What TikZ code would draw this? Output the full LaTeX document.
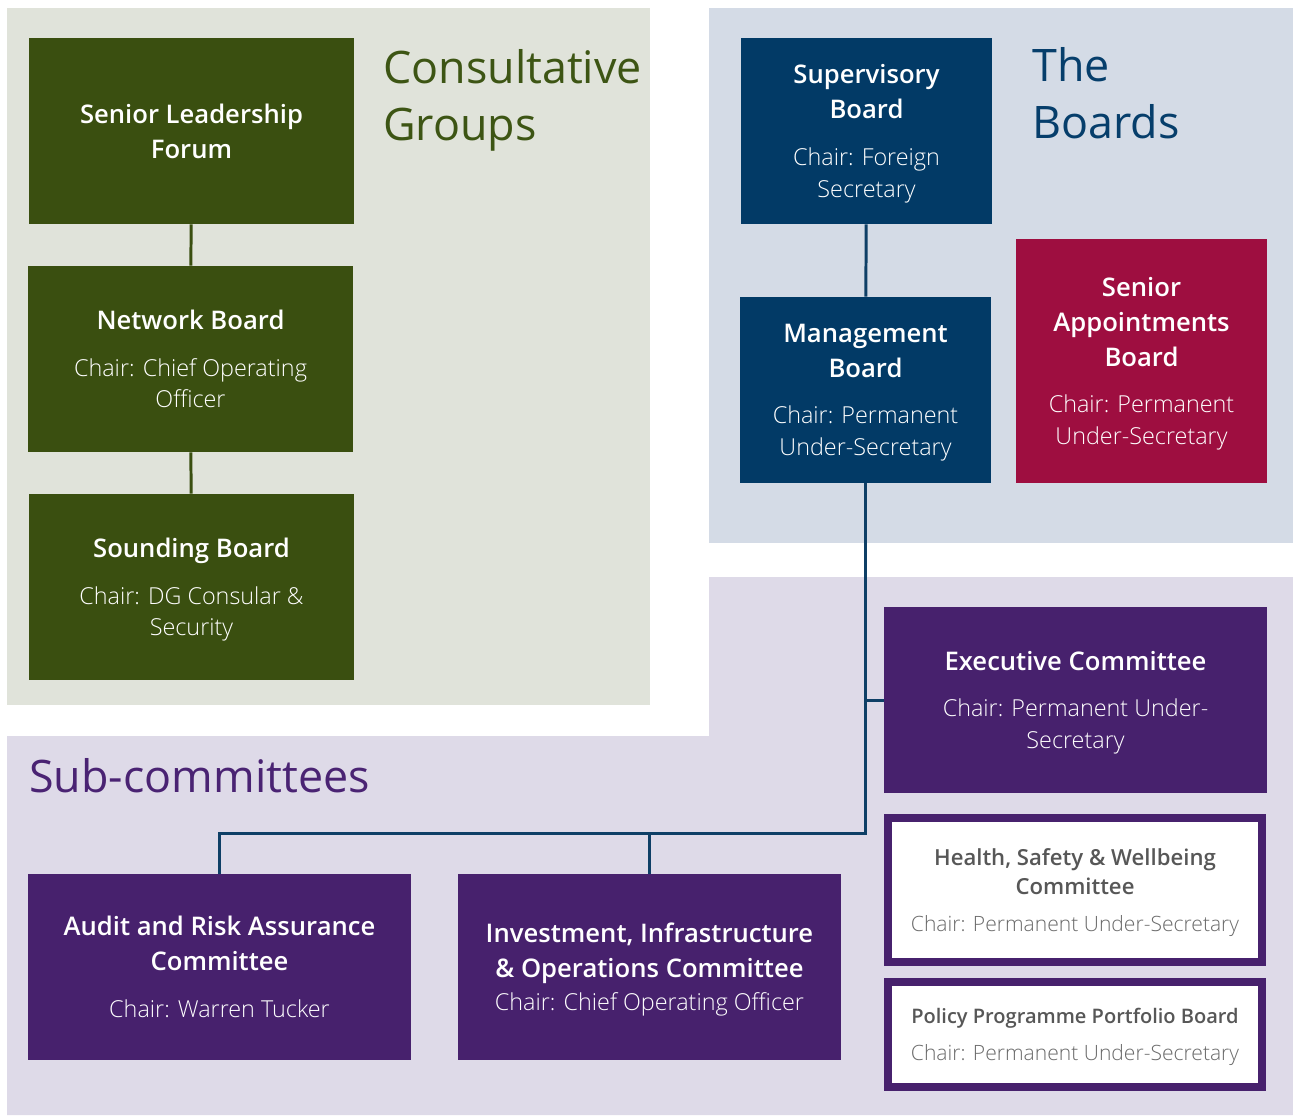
\documentclass[tikz,border=0pt]{standalone}
\usepackage{fontspec}
\setmainfont{Open Sans}
\newcommand{\ttlsz}{15.2}
\newcommand{\smttlsz}{13.1}
\newcommand{\pptsz}{11.9}
\newcommand{\semiok}{\renewcommand{\ttlsz}{14.6}\renewcommand{\smttlsz}{12.6}\renewcommand{\pptsz}{11.4}}
\IfFontExistsTF{Open Sans SemiBold}{\newfontfamily\semifont{Open Sans SemiBold}\semiok}{%
  \IfFontExistsTF{Open Sans Semibold}{\newfontfamily\semifont{Open Sans Semibold}\semiok}{%
    \IfFontExistsTF{OpenSans-Semibold.ttf}{\newfontfamily\semifont{OpenSans-Semibold.ttf}\semiok}{%
      \newfontfamily\semifont{Open Sans}}}}
\IfFontExistsTF{Open Sans Light}{\newfontfamily\lightfont{Open Sans Light}}{%
  \IfFontExistsTF{OpenSans-Light.ttf}{\newfontfamily\lightfont{OpenSans-Light.ttf}}{\newfontfamily\lightfont{Open Sans}}}
\usetikzlibrary{positioning,calc}

\definecolor{panelgrn}{HTML}{E0E3DA}
\definecolor{panelblu}{HTML}{D4DBE6}
\definecolor{panelpur}{HTML}{DEDAE8}
\definecolor{boxgrn}{HTML}{3A4F10}
\definecolor{boxblu}{HTML}{023A66}
\definecolor{boxred}{HTML}{9E0E40}
\definecolor{boxpur}{HTML}{47216D}
\definecolor{linblu}{HTML}{0E3F66}
\definecolor{ttlgrn}{HTML}{3D5514}
\definecolor{ttlblu}{HTML}{063E6B}
\definecolor{ttlpur}{HTML}{4A2373}
\definecolor{greytxt}{HTML}{575757}
\definecolor{greychr}{HTML}{6B6B6B}

\newcommand{\ttlf}{\semifont\fontsize{\ttlsz}{19.8}\selectfont}
\newcommand{\chrf}{\lightfont\fontsize{13.3}{18.1}\selectfont}
\newcommand{\smttlf}{\color{greytxt}\semifont\fontsize{\smttlsz}{16.4}\selectfont}
\newcommand{\pptf}{\color{greytxt}\semifont\fontsize{\pptsz}{16.4}\selectfont}
\newcommand{\smchrf}{\color{greychr}\lightfont\fontsize{12}{16.4}\selectfont}
\newcommand{\bigttlf}{\fontsize{25.5}{32.3}\selectfont}
% chair lines, set at their own line spacing
\newcommand{\chairln}[1]{{\chrf\begin{tabular}[t]{@{}c@{}}#1\\[-5.4pt]\end{tabular}}}

\begin{document}
\begin{tikzpicture}[
  x=0.02cm, y=-0.02cm,
  grnbox/.style={fill=boxgrn, text=white, font=\ttlf, align=center, inner sep=0pt, minimum width=6.5cm, minimum height=3.72cm},
  blubox/.style={fill=boxblu, text=white, font=\ttlf, align=center, inner sep=0pt, minimum width=5.02cm, minimum height=3.72cm},
  redbox/.style={fill=boxred, text=white, font=\ttlf, align=center, inner sep=0pt, minimum width=5.02cm, minimum height=4.88cm},
  purbox/.style={fill=boxpur, text=white, font=\ttlf, align=center, inner sep=0pt, minimum width=7.66cm, minimum height=3.72cm},
  outbox/.style={fill=white, draw=boxpur, line width=4.5pt, font=\fontsize{12}{16.4}\selectfont, align=center, inner sep=0pt, text depth=0pt, minimum width=7.48cm},
  grptitle/.style={anchor=base west, align=left, inner sep=0pt, font=\bigttlf},
  grnline/.style={draw=boxgrn, line width=1.7pt},
  bluline/.style={draw=linblu, line width=1.7pt}
]
\useasboundingbox (0,0) rectangle (1293,1115);

% background panels
\fill[panelgrn] (7,8) rectangle (650,705);
\fill[panelblu] (709,8) rectangle (1293,543);
\fill[panelpur] (709,577) -- (1293,577) -- (1293,1115) -- (7,1115) -- (7,736) -- (709,736) -- cycle;

% panel titles
\node[grptitle, text=ttlgrn] (tcons) at (383,140) {Consultative\\Groups};
\node[grptitle, text=ttlblu] (tbrds) at (1032,138) {The\\Boards};
\node[grptitle, text=ttlpur] (tsubc) at (29,792) {Sub-committees};

% consultative groups
\node[grnbox] (slf) at (191.5,131) {Senior Leadership\\Forum};
\node[grnbox] (netb) at (190.5,359) {Network Board\\[6.7pt]\chairln{Chair: Chief Operating\\Officer}};
\node[grnbox] (sndb) at (191.5,587) {Sounding Board\\[6.7pt]\chairln{Chair: DG Consular \&\\Security}};

% the boards
\node[blubox] (supb) at (866.5,131) {Supervisory\\Board\\[6.7pt]\chairln{Chair: Foreign\\Secretary}};
\node[blubox] (mgmt) at (865.5,390) {Management\\Board\\[6.7pt]\chairln{Chair: Permanent\\Under-Secretary}};
\node[redbox] (sab) at (1141.5,361) {Senior\\Appointments\\Board\\[6.7pt]\chairln{Chair: Permanent\\Under-Secretary}};

% sub-committees
\node[purbox] (exco) at (1075.5,700) {Executive Committee\\[6.7pt]\chairln{Chair: Permanent Under-\\Secretary}};
\node[outbox, minimum height=2.88cm] (hsw) at (1075,890) {\smttlf Health, Safety \& Wellbeing\\\smttlf Committee\\[4.5pt]\smchrf Chair: Permanent Under-Secretary};
\node[outbox, minimum height=2.1cm] (pppb) at (1075,1034.5) {\pptf Policy Programme Portfolio Board\\[4.5pt]\smchrf Chair: Permanent Under-Secretary};
\node[purbox] (arac) at (219.5,967) {Audit and Risk Assurance\\Committee\\[7.2pt]\chairln{Chair: Warren Tucker}};
\node[purbox] (iioc) at (649.5,967) {Investment, Infrastructure\\\& Operations Committee\\[-1.1pt]\chairln{Chair: Chief Operating Officer}};

% connectors
\coordinate (bus) at (866,833);
\draw[grnline] (slf) -- (netb);
\draw[grnline] (netb) -- (sndb);
\draw[bluline] (supb) -- (mgmt);
\draw[bluline] (mgmt) -- (mgmt |- bus) -| (arac);
\draw[bluline] (bus -| iioc) -- (iioc);
\draw[bluline] (exco) -- (exco -| mgmt);
\end{tikzpicture}
\end{document}
